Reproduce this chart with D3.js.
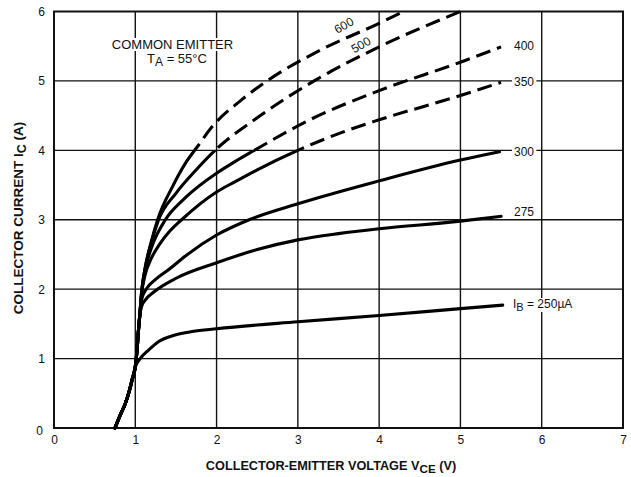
<!DOCTYPE html>
<html>
<head>
<meta charset="utf-8">
<script src="https://cdn.jsdelivr.net/npm/d3@7"></script>
<style>
  body { margin: 0; background: #fff; }
  text { font-family: "Liberation Sans", Arial, Helvetica, sans-serif; fill: #111; }
</style>
</head>
<body>
<svg id="chart" width="631" height="477"></svg>
<script>
// Axis ticks
const xTicks = [0, 1, 2, 3, 4, 5, 6, 7];
const yTicks = [0, 1, 2, 3, 4, 5, 6];

// Shared turn-on region of all curves: [VCE (V), IC (A)]
const turnOn = [[0.75, 0], [0.82, 0.2], [0.88, 0.36], [0.93, 0.55], [0.96, 0.69], [1.0, 0.88]];
// Common saturation trunk of the higher base currents
const trunk = [[1.02, 1.1], [1.04, 1.42], [1.055, 1.62]];

// Output characteristics per base current
const ib250 = [[1.06, 1.0], [1.16, 1.12], [1.28, 1.24], [1.49, 1.34], [1.7, 1.39], [2.0, 1.43], [3.0, 1.53], [4.0, 1.62], [5.0, 1.72], [5.52, 1.77]];
const ib275 = [[1.08, 1.76], [1.12, 1.84], [1.24, 1.97], [1.49, 2.15], [2.0, 2.38], [2.5, 2.57], [3.0, 2.71], [3.5, 2.8], [4.0, 2.87], [5.0, 2.98], [5.5, 3.05]];
const ib300 = [[1.08, 1.86], [1.14, 2.01], [1.24, 2.13], [1.42, 2.29], [1.63, 2.49], [2.0, 2.78], [2.4, 3.0], [3.0, 3.23], [4.0, 3.56], [5.0, 3.86], [5.48, 3.98]];
const ib350 = [[1.08, 1.95], [1.12, 2.2], [1.2, 2.45], [1.3, 2.65], [1.42, 2.83], [1.57, 3.0], [2.0, 3.4], [2.23, 3.55], [2.5, 3.72], [3.0, 4.0], [3.64, 4.3], [4.0, 4.44], [5.0, 4.79], [5.5, 4.98]];
const ib400 = [[1.08, 1.97], [1.12, 2.27], [1.2, 2.6], [1.37, 3.0], [1.6, 3.3], [2.0, 3.67], [2.23, 3.84], [2.45, 3.99], [3.13, 4.43], [4.0, 4.86], [5.0, 5.27], [5.5, 5.49]];
const ib500 = [[1.08, 1.98], [1.12, 2.29], [1.2, 2.68], [1.28, 2.98], [1.5, 3.38], [1.75, 3.72], [2.0, 4.02], [2.5, 4.47], [3.2, 5.0], [4.0, 5.49], [5.0, 6.0]];
const ib600 = [[1.08, 1.99], [1.12, 2.3], [1.2, 2.7], [1.28, 3.02], [1.45, 3.46], [1.62, 3.82], [1.75, 4.03], [1.96, 4.36], [2.3, 4.72], [2.62, 5.0], [3.27, 5.44], [4.0, 5.83], [4.3, 6.0]];

// Above this collector current the curves are drawn dashed
const dashAbove = 4;

const curves = [
  turnOn.concat(ib250),
  turnOn.concat(trunk, ib275),
  turnOn.concat(trunk, ib300),
  turnOn.concat(trunk, ib350),
  turnOn.concat(trunk, ib400),
  turnOn.concat(trunk, ib500),
  turnOn.concat(trunk, ib600)
];

const svg = d3.select("#chart");
const plotL = 54, plotR = 623, plotT = 11.5, plotB = 428;

const x = d3.scaleLinear().domain([0, 7]).range([plotL, plotR]);
const y = d3.scaleLinear().domain([0, 6]).range([plotB, plotT]);

// Grid
const grid = svg.append("g").attr("stroke", "#111").attr("stroke-width", 1.4);
grid.selectAll("line.v").data(xTicks.slice(1, -1)).join("line").attr("class", "v")
  .attr("x1", d => x(d)).attr("x2", d => x(d)).attr("y1", plotT).attr("y2", plotB);
grid.selectAll("line.h").data(yTicks.slice(1, -1)).join("line").attr("class", "h")
  .attr("y1", d => y(d)).attr("y2", d => y(d)).attr("x1", plotL).attr("x2", plotR);
svg.append("rect")
  .attr("x", plotL).attr("y", plotT).attr("width", plotR - plotL).attr("height", plotB - plotT)
  .attr("fill", "none").attr("stroke", "#111").attr("stroke-width", 2);

// Tick labels
const fmt = d3.format("d");
const xAxis = svg.append("g").attr("transform", `translate(0,${plotB})`)
  .call(d3.axisBottom(x).tickValues(xTicks).tickFormat(fmt).tickSize(0).tickPadding(7));
const yAxis = svg.append("g").attr("transform", `translate(${plotL},0)`)
  .call(d3.axisLeft(y).tickValues(yTicks).tickFormat(fmt).tickSize(0).tickPadding(9));
[xAxis, yAxis].forEach(a => {
  a.select(".domain").remove();
  a.selectAll("text").style("font-size", "12px");
});
yAxis.selectAll(".tick").filter(d => d === 0).select("text").attr("dy", "0.55em").attr("x", -11);

// Solid below 4 A, dashed above
const defs = svg.append("defs");
defs.append("clipPath").attr("id", "solidZone").append("rect")
  .attr("x", 0).attr("y", y(dashAbove)).attr("width", 631).attr("height", 477 - y(dashAbove));
defs.append("clipPath").attr("id", "dashZone").append("rect")
  .attr("x", 0).attr("y", 0).attr("width", 631).attr("height", y(dashAbove));

const line = d3.line()
  .x(d => x(d[0])).y(d => y(d[1]))
  .curve(d3.curveMonotoneX);

const curveG = svg.append("g").attr("fill", "none").attr("stroke", "#000").attr("stroke-width", 3.1);
curveG.append("g").attr("clip-path", "url(#solidZone)")
  .selectAll("path").data(curves).join("path")
  .attr("d", line).attr("stroke-linecap", "round").attr("stroke-linejoin", "round");
curveG.append("g").attr("clip-path", "url(#dashZone)")
  .selectAll("path").data(curves).join("path")
  .attr("d", line).attr("stroke-dasharray", "15,7");

// Labels with a white ground so grid lines break around them
function label(g, pad) {
  const b = g.node().getBBox();
  g.insert("rect", ":first-child")
    .attr("x", b.x - pad).attr("y", b.y + 1).attr("width", b.width + 2 * pad).attr("height", b.height - 2)
    .attr("fill", "#fff");
  return g;
}

function subText(parent, px, py, parts, size, opts = {}) {
  const g = parent.append("g");
  const t = g.append("text").attr("x", px).attr("y", py)
    .style("font-size", size + "px")
    .attr("text-anchor", opts.anchor || "start")
    .attr("font-weight", opts.bold ? "bold" : null);
  parts.forEach(p => {
    const ts = t.append("tspan").text(p.t);
    if (p.sub) ts.attr("dy", 3).style("font-size", (size - 1) + "px");
    if (p.up) ts.attr("dy", -3);
  });
  if (opts.transform) g.attr("transform", opts.transform);
  return g;
}

const notes = svg.append("g");
label(subText(notes, 172.5, 49, [{ t: "COMMON EMITTER" }], 13, { anchor: "middle" }), 2);
label(subText(notes, 177, 63, [{ t: "T" }, { t: "A", sub: true }, { t: " = 55°C", up: true }], 13, { anchor: "middle" }), 2);

label(subText(notes, 514, 50, [{ t: "400" }], 12), 2);
label(subText(notes, 514, 86, [{ t: "350" }], 12), 2);
label(subText(notes, 514, 156, [{ t: "300" }], 12), 2);
label(subText(notes, 514, 216, [{ t: "275" }], 12), 2);
label(subText(notes, 513, 308, [{ t: "I" }, { t: "B", sub: true }, { t: " = 250µA", up: true }], 12), 2);

subText(notes, 0, 4, [{ t: "600" }], 12, { anchor: "middle", transform: "translate(344,25.5) rotate(-30)" });
subText(notes, 0, 4, [{ t: "500" }], 12, { anchor: "middle", transform: "translate(361,45) rotate(-30)" });

// Axis titles
subText(svg, 331, 470, [{ t: "COLLECTOR-EMITTER VOLTAGE V" }, { t: "CE", sub: true }, { t: " (V)", up: true }], 12.7, { anchor: "middle", bold: true });
subText(svg, 0, 0, [{ t: "COLLECTOR CURRENT I" }, { t: "C", sub: true }, { t: " (A)", up: true }], 13.5,
  { anchor: "middle", bold: true, transform: "translate(23,218) rotate(-90)" });
</script>
</body>
</html>
